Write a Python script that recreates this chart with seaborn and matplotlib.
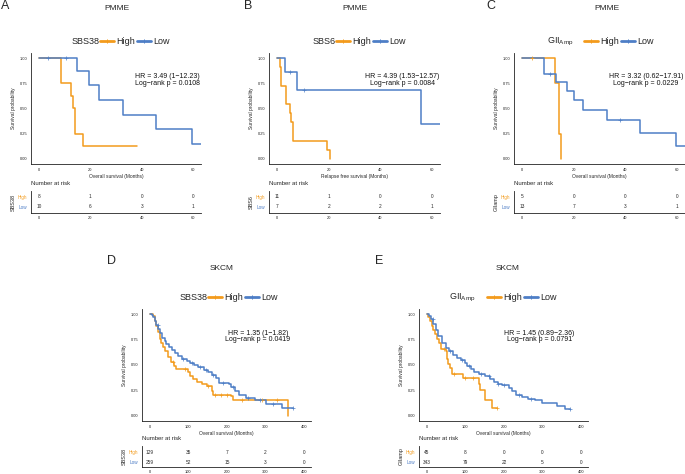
import numpy as np
import pandas as pd
import matplotlib
matplotlib.use('Agg')
import matplotlib.pyplot as plt
from matplotlib.lines import Line2D
import seaborn as sns

# strata colours
ORANGE = '#F39B1C'
BLUE = '#4E7EC6'

# ---- A: PMME, SBS38, overall survival ----
a_high_time = [0, 8.5, 12.4, 13.1, 13.9, 17.0, 38.0]
a_high_surv = [1.0, 0.75, 0.625, 0.5, 0.25, 0.125, 0.125]
a_low_time = [0, 15.0, 19.6, 23.3, 32.8, 45.5, 59.6, 63.0]
a_low_surv = [1.0, 0.875, 0.729, 0.583, 0.4375, 0.292, 0.146, 0.146]
a_cens_high = []
a_cens_low = [3.6, 10.4]
a_risk_high = [8, 1, 0, 0]
a_risk_low = [10, 6, 3, 1]

# ---- B: PMME, SBS6, relapse free survival ----
b_high_time = [0, 1.0, 1.4, 3.6, 4.9, 5.5, 6.2, 19.5, 20.5]
b_high_surv = [1.0, 0.909, 0.727, 0.545, 0.455, 0.364, 0.182, 0.091, 0.0]
b_low_time = [0, 3.0, 7.7, 55.6, 63.0]
b_low_surv = [1.0, 0.857, 0.686, 0.343, 0.343]
b_cens_high = []
b_cens_low = [5.2, 10.3]
b_risk_high = [11, 1, 0, 0]
b_risk_low = [7, 2, 2, 1]

# ---- C: PMME, GII amp, overall survival ----
c_high_time = [0, 12.7, 14.3, 15.1]
c_high_surv = [1.0, 0.75, 0.25, 0.0]
c_low_time = [0, 8.6, 13.0, 17.5, 20.0, 23.5, 33.0, 45.8, 59.7, 63.0]
c_low_surv = [1.0, 0.846, 0.762, 0.677, 0.581, 0.484, 0.387, 0.258, 0.129, 0.129]
c_cens_high = [3.9]
c_cens_low = [10.8, 38.0]
c_risk_high = [5, 0, 0, 0]
c_risk_low = [13, 7, 3, 1]

# ---- D: SKCM, SBS38, overall survival ----
d_high_time = [0, 8, 13, 17, 22, 26, 30, 35, 40, 47, 56, 62, 69, 100, 104, 113, 121,
               135, 147, 160, 165, 210, 216, 359]
d_high_surv = [1.0, 0.98, 0.93, 0.88, 0.82, 0.76, 0.72, 0.68, 0.64, 0.58, 0.53, 0.49,
               0.46, 0.43, 0.39, 0.36, 0.33, 0.31, 0.29, 0.24, 0.21, 0.20, 0.16, 0.0]
d_low_time = [0, 5, 9, 13, 17, 22, 26, 32, 38, 43, 50, 58, 65, 72, 82, 95, 105, 115, 125,
              140, 150, 160, 172, 178, 205, 210, 222, 232, 250, 272, 300, 342, 372]
d_low_surv = [1.0, 0.99, 0.97, 0.93, 0.89, 0.85, 0.81, 0.77, 0.74, 0.71, 0.68, 0.65, 0.62,
              0.59, 0.56, 0.54, 0.52, 0.50, 0.48, 0.45, 0.43, 0.40, 0.37, 0.32, 0.31, 0.28,
              0.24, 0.21, 0.18, 0.16, 0.12, 0.08, 0.08]
d_cens_high = [60, 90, 150, 170, 185, 200, 240, 290, 330]
d_cens_low = [20, 85, 110, 130, 145, 165, 190, 215, 255, 285, 320, 372]
d_risk_high = [129, 35, 7, 2, 0]
d_risk_low = [259, 52, 15, 3, 0]

# ---- E: SKCM, GII amp, overall survival ----
e_high_time = [0, 4, 8, 13, 17, 22, 26, 32, 36, 49, 53, 56, 60, 66, 94, 135, 139, 150, 168, 182]
e_high_surv = [1.0, 0.97, 0.93, 0.88, 0.84, 0.80, 0.76, 0.72, 0.66, 0.64, 0.56, 0.51, 0.47,
               0.41, 0.37, 0.31, 0.25, 0.16, 0.08, 0.08]
e_low_time = [0, 5, 10, 16, 23, 30, 40, 50, 58, 68, 78, 88, 98, 105, 115, 122, 135, 150, 165,
              174, 185, 195, 212, 222, 232, 247, 262, 281, 298, 337, 359, 372]
e_low_surv = [1.0, 0.98, 0.95, 0.90, 0.84, 0.78, 0.72, 0.67, 0.64, 0.60, 0.57, 0.55, 0.52,
              0.49, 0.46, 0.43, 0.41, 0.39, 0.36, 0.33, 0.31, 0.30, 0.27, 0.24, 0.21, 0.19,
              0.17, 0.16, 0.13, 0.10, 0.07, 0.07]
e_cens_high = [45, 70, 100, 120, 182]
e_cens_low = [15, 60, 90, 110, 140, 160, 185, 200, 240, 270, 372]
e_risk_high = [45, 8, 0, 0, 0]
e_risk_low = [343, 79, 22, 5, 0]

W, H = 685, 474

sns.set_style('white')
plt.rcParams['font.family'] = ['Liberation Sans', 'DejaVu Sans']
plt.rcParams['mathtext.fontset'] = 'custom'
plt.rcParams['mathtext.rm'] = 'Liberation Sans'
plt.rcParams['mathtext.it'] = 'Liberation Sans'

fig = plt.figure(figsize=(W / 100, H / 100), dpi=100)


def box(l, t, r, b):
    # pixel box -> figure fraction
    return [l / W, 1 - b / H, (r - l) / W, (b - t) / H]


def fx(x):
    return x / W


def fy(y):
    return 1 - y / H


def step_at(times, surv, pts):
    idx = np.searchsorted(times, pts, side='right') - 1
    return np.asarray(surv)[idx]


def style_axis(ax):
    sns.despine(ax=ax)
    for side in ['left', 'bottom']:
        ax.spines[side].set_linewidth(0.6)
        ax.spines[side].set_color('#222222')
    ax.tick_params(length=1.8, width=0.5, pad=1.0, labelsize=2.9, colors='#222222')


def km_panel(main, risk, xlim, xticks, high, low, cens_high, cens_low, hr, hr_xy,
             xlabel, strata, risk_high, risk_low, risk_ylim):
    ax = fig.add_axes(box(*main))
    df = pd.concat([
        pd.DataFrame({'time': high[0], 'surv': high[1], 'group': 'High'}),
        pd.DataFrame({'time': low[0], 'surv': low[1], 'group': 'Low'}),
    ])
    sns.lineplot(data=df, x='time', y='surv', hue='group',
                 palette={'High': ORANGE, 'Low': BLUE}, estimator=None, sort=False,
                 drawstyle='steps-post', linewidth=1.1, legend=False, ax=ax)
    for t, s, c, col in [(high[0], high[1], cens_high, ORANGE), (low[0], low[1], cens_low, BLUE)]:
        if len(c):
            sns.scatterplot(x=c, y=step_at(t, s, c), marker='+', color=col, s=6,
                            linewidth=0.5, legend=False, ax=ax, zorder=3)
    ax.set_xlim(*xlim)
    ax.set_ylim(-0.05, 1.05)
    ax.set_xticks(xticks)
    ax.set_yticks([0, 0.25, 0.5, 0.75, 1.0])
    ax.set_yticklabels(['0.00', '0.25', '0.50', '0.75', '1.00'])
    ax.set_xlabel(xlabel, fontsize=3.5, labelpad=1.2)
    ax.set_ylabel('Survival probability', fontsize=3.5, labelpad=2.5)
    style_axis(ax)
    ax.text(hr_xy[0], hr_xy[1], hr, ha='center', va='center', fontsize=5,
            linespacing=0.95, color='#111111')

    rax = fig.add_axes(box(*risk))
    for i, tk in enumerate(xticks):
        rax.text(tk, 1, str(risk_high[i]), ha='center', va='center', fontsize=3.4)
        rax.text(tk, 0, str(risk_low[i]), ha='center', va='center', fontsize=3.4)
    rax.set_xlim(*xlim)
    rax.set_ylim(*risk_ylim)
    rax.set_xticks(xticks)
    rax.set_yticks([1, 0])
    rax.set_yticklabels(['High', 'Low'])
    style_axis(rax)
    rax.tick_params(axis='y', labelsize=3.3)
    rax.tick_params(axis='x', pad=0.6)
    for lab, col in zip(rax.get_yticklabels(), [ORANGE, BLUE]):
        lab.set_color(col)
    rax.set_ylabel(strata, fontsize=4, labelpad=1.5)
    fig.text(fx(main[0]), fy(risk[1] - 7), 'Number at risk', fontsize=4.3,
             ha='left', va='center')


def legend(title, x_title, x_leg, y):
    fig.text(fx(x_title), fy(y), title, ha='right', va='center', fontsize=6.5)
    handles = [Line2D([0], [0], color=ORANGE, lw=2, marker='+', markersize=3, mew=0.7),
               Line2D([0], [0], color=BLUE, lw=2, marker='+', markersize=3, mew=0.7)]
    fig.legend(handles, ['High', 'Low'], loc='center left', bbox_to_anchor=(fx(x_leg), fy(y)),
               ncol=2, frameon=False, fontsize=6.5, handlelength=1.5, handletextpad=0.3,
               columnspacing=0.25, borderpad=0, borderaxespad=0)


top_ticks = [0, 20, 40, 60]
bot_ticks = [0, 100, 200, 300, 400]
top_xlim = (-3.1, 63.1)
bot_xlim = (-20.5, 418)
gii = 'GII$_{\\mathrm{Amp}}$'

km_panel((31, 53, 201, 164), (31, 191, 201, 213), top_xlim, top_ticks,
         (a_high_time, a_high_surv), (a_low_time, a_low_surv), a_cens_high, a_cens_low,
         'HR = 3.49 (1\u221212.23)\nLog\u2212rank p = 0.0108', (50, 0.78),
         'Overall survival (Months)', 'SBS38', a_risk_high, a_risk_low, (-0.6, 1.6))
km_panel((269, 53, 440, 164), (269, 191, 440, 213), top_xlim, top_ticks,
         (b_high_time, b_high_surv), (b_low_time, b_low_surv), b_cens_high, b_cens_low,
         'HR = 4.39 (1.53\u221212.57)\nLog\u2212rank p = 0.0084', (48.4, 0.78),
         'Relapse free survival (Months)', 'SBS6', b_risk_high, b_risk_low, (-0.6, 1.6))
km_panel((514, 53, 685, 164), (514, 191, 685, 213), top_xlim, top_ticks,
         (c_high_time, c_high_surv), (c_low_time, c_low_surv), c_cens_high, c_cens_low,
         'HR = 3.32 (0.62\u221217.91)\nLog\u2212rank p = 0.0229', (48, 0.78),
         'Overall survival (Months)', 'GIIamp', c_risk_high, c_risk_low, (-0.6, 1.6))
km_panel((142, 309, 311, 421), (142, 446, 311, 467), bot_xlim, bot_ticks,
         (d_high_time, d_high_surv), (d_low_time, d_low_surv), d_cens_high, d_cens_low,
         'HR = 1.35 (1\u22121.82)\nLog\u2212rank p = 0.0419', (280, 0.78),
         'Overall survival (Months)', 'SBS38', d_risk_high, d_risk_low, (-0.5, 1.6))
km_panel((419, 309, 588, 421), (419, 446, 588, 467), bot_xlim, bot_ticks,
         (e_high_time, e_high_surv), (e_low_time, e_low_surv), e_cens_high, e_cens_low,
         'HR = 1.45 (0.89\u22122.36)\nLog\u2212rank p = 0.0791', (292, 0.78),
         'Overall survival (Months)', 'GIIamp', e_risk_high, e_risk_low, (-0.5, 1.6))

legend('SBS38', 100, 100, 42)
legend('SBS6', 336, 336, 42)
legend(gii, 574, 584, 42)
legend('SBS38', 208, 208, 298)
legend(gii, 476, 487, 298)

# panel titles and letters
for x, y, s in [(117, 8, 'PMME'), (355, 8, 'PMME'), (607, 8, 'PMME'),
                (222, 268, 'SKCM'), (508, 268, 'SKCM')]:
    fig.text(fx(x), fy(y), s, ha='center', va='center', fontsize=6)
for x, y, s in [(1, 6, 'A'), (244, 6, 'B'), (486, 6, 'C'), (107, 261, 'D'), (375, 261, 'E')]:
    fig.text(fx(x), fy(y), s, ha='left', va='center', fontsize=9)

fig.savefig('out.png', dpi=100)
